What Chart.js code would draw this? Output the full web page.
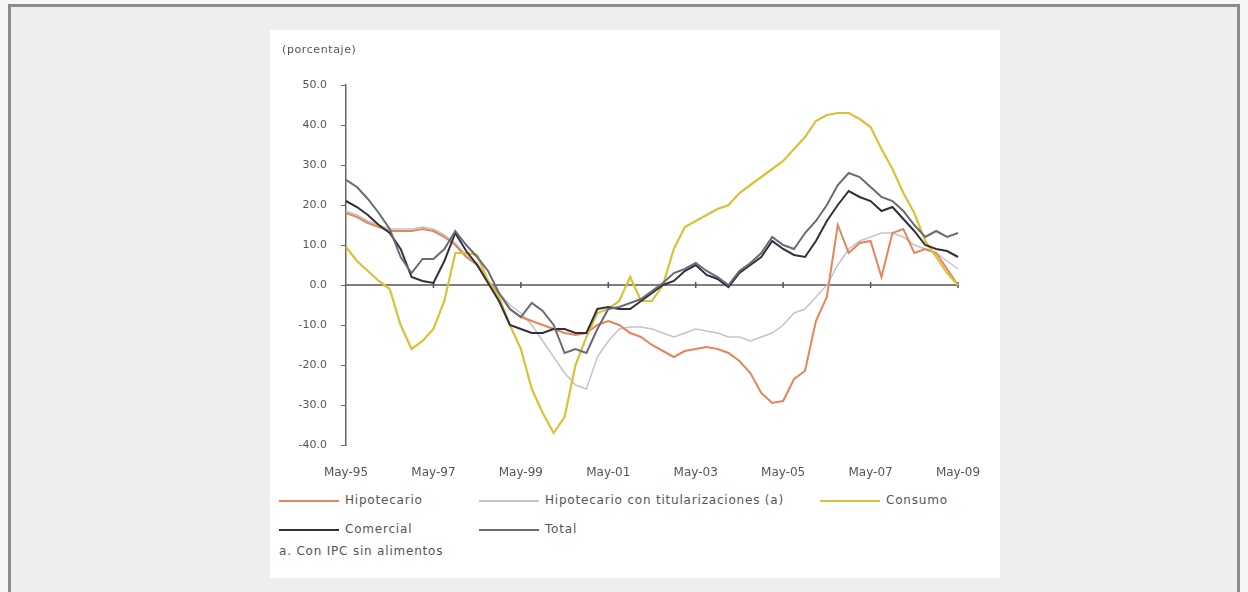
<!DOCTYPE html>
<html>
<head>
<meta charset="utf-8">
<script src="https://cdn.jsdelivr.net/npm/chart.js@4"></script>
<style>
  body { margin: 0; background: #f6f6f6; font-family: "DejaVu Sans", sans-serif; }
  #frame { position: absolute; left: 8px; top: 4px; width: 1226px; height: 620px;
           border: 3px solid #8c8c8c; background: #eeeeee; }
  #panel { position: absolute; left: 270px; top: 30px; width: 730px; height: 548px; background: #ffffff; }
  #wrap { position: absolute; left: 0; top: 0; width: 730px; height: 450px; }
  #ytitle { position: absolute; left: 12px; top: 13px; font-size: 11px; color: #555; letter-spacing: 0.6px; }
  .leg { position: absolute; font-size: 12px; color: #555; letter-spacing: 0.8px; white-space: nowrap; }
  .leg i { display: inline-block; width: 60px; height: 2px; vertical-align: middle; margin-right: 6px; }
  #nota { position: absolute; left: 9px; top: 514px; font-size: 12px; color: #555; letter-spacing: 0.8px; }
</style>
</head>
<body>
<div id="frame"></div>
<div id="panel">
  <div id="wrap"><canvas id="monGraphique"></canvas></div>
  <div id="ytitle">(porcentaje)</div>
  <div id="legende"></div>
  <div id="nota">a. Con IPC sin alimentos</div>
</div>
<script>
// Trimestres, de May-95 a May-09
let mois = ['May-95','Ago-95','Nov-95','Feb-96','May-96','Ago-96','Nov-96','Feb-97',
            'May-97','Ago-97','Nov-97','Feb-98','May-98','Ago-98','Nov-98','Feb-99',
            'May-99','Ago-99','Nov-99','Feb-00','May-00','Ago-00','Nov-00','Feb-01',
            'May-01','Ago-01','Nov-01','Feb-02','May-02','Ago-02','Nov-02','Feb-03',
            'May-03','Ago-03','Nov-03','Feb-04','May-04','Ago-04','Nov-04','Feb-05',
            'May-05','Ago-05','Nov-05','Feb-06','May-06','Ago-06','Nov-06','Feb-07',
            'May-07','Ago-07','Nov-07','Feb-08','May-08','Ago-08','Nov-08','Feb-09',
            'May-09'];

let yTicks = [-40, -30, -20, -10, 0, 10, 20, 30, 40, 50];

let dataHipotecario = [18, 17, 15.5, 14.5, 13.5, 13.5, 13.5, 14, 13.5, 12, 10, 7,
                       5, 1, -2, -6, -8, -9, -10, -11, -12, -12.5, -12, -10,
                       -9, -10, -12, -13, -15, -16.5, -18, -16.5, -16, -15.5, -16, -17,
                       -19, -22, -27, -29.5, -29, -23.5, -21.5, -9, -3, 15, 8, 10.5,
                       11, 2, 13, 14, 8, 9, 8, 4, 0];

let dataHipoTitul = [18.5, 17.5, 16, 15, 14, 14, 14, 14.5, 14, 12.5, 10.5, 7.5,
                     5.5, 1, -2, -5, -7, -10, -14, -18, -22, -25, -26, -18,
                     -14, -11, -10.5, -10.5, -11, -12, -13, -12, -11, -11.5, -12, -13,
                     -13, -14, -13, -12, -10, -7, -6, -3, 0, 5, 9, 11,
                     12, 13, 13, 12, 10, 9, 8, 6, 4];

let dataConsumo = [9.5, 6, 3.5, 1, -1, -10, -16, -14, -11, -4, 8, 8,
                   7.5, 1, -3, -10, -16, -26, -32, -37, -33, -20, -13, -7,
                   -6, -4, 2, -4, -4, 0, 9, 14.5, 16, 17.5, 19, 20,
                   23, 25, 27, 29, 31, 34, 37, 41, 42.5, 43, 43, 41.5,
                   39.5, 34, 29, 23, 18, 11, 7, 3, 0];

let dataComercial = [21, 19.5, 17.5, 15, 13, 9, 2, 1, 0.5, 6, 13, 8.5,
                     5, 0.5, -4, -10, -11, -12, -12, -11, -11, -12, -12, -6,
                     -5.5, -6, -6, -4, -2, 0, 1, 3.5, 5, 2.5, 1.5, -0.5,
                     3, 5, 7, 11, 9, 7.5, 7, 11, 16, 20, 23.5, 22,
                     21, 18.5, 19.5, 16.5, 13.5, 10, 9, 8.5, 7];

let dataTotal = [26.3, 24.5, 21.5, 18, 14, 7, 3, 6.5, 6.5, 9, 13.5, 10,
                 7, 3.5, -2, -6, -8, -4.5, -6.5, -10, -17, -16, -17, -11,
                 -6, -5.5, -4.5, -3.5, -1.5, 0.5, 3, 4, 5.5, 3.5, 2, 0,
                 3.5, 5.5, 8, 12, 10, 9, 13, 16, 20, 25, 28, 27,
                 24.5, 22, 21, 18.5, 15, 12, 13.5, 12, 13];

// Séries : nom, données, couleur, épaisseur, ordre de dessin
let arraySeries = [
    { name: 'Hipotecario', data: dataHipotecario, color: '#e4855a', width: 2, order: 4 },
    { name: 'Hipotecario con titularizaciones (a)', data: dataHipoTitul, color: '#c3c3ca', width: 1.5, order: 5 },
    { name: 'Consumo', data: dataConsumo, color: '#d8c23a', width: 2.2, order: 3 },
    { name: 'Comercial', data: dataComercial, color: '#30303c', width: 2, order: 2 },
    { name: 'Total', data: dataTotal, color: '#6a6a76', width: 2, order: 1 }
];

// Ligne du zéro + petits repères
const zeroLine = {
    id: 'zeroLine',
    beforeDatasetsDraw(chart) {
        const c = chart.ctx, a = chart.chartArea;
        const y0 = chart.scales.y.getPixelForValue(0);
        c.save();
        c.strokeStyle = '#555';
        c.lineWidth = 1.5;
        c.beginPath();
        c.moveTo(a.left, y0);
        c.lineTo(a.right, y0);
        mois.forEach((m, i) => {
            if (i % 8 == 0 && i > 0) {
                const x = chart.scales.x.getPixelForValue(i);
                c.moveTo(x, y0 - 3);
                c.lineTo(x, y0 + 3);
            }
        });
        c.stroke();
        c.restore();
    }
};

const ctx = document.getElementById('monGraphique').getContext('2d');
const myChart = new Chart(ctx, {
    type: 'line',
    data: {
        labels: mois,
        datasets: arraySeries.map(s => ({
            label: s.name,
            data: s.data,
            borderColor: s.color,
            borderWidth: s.width,
            pointRadius: 0,
            tension: 0,
            fill: false,
            order: s.order
        }))
    },
    options: {
        responsive: true,
        maintainAspectRatio: false,
        animation: false,
        layout: { padding: { top: 55, right: 42, left: 0, bottom: 0 } },
        plugins: {
            legend: { display: false },
            tooltip: { enabled: false }
        },
        scales: {
            x: {
                grid: { display: false },
                border: { display: false },
                afterFit: scale => { scale.height = 35; },
                ticks: {
                    autoSkip: false,
                    maxRotation: 0,
                    padding: 13,
                    color: '#555',
                    font: { family: 'DejaVu Sans', size: 12 },
                    callback: (v, i) => (i % 8 == 0 ? mois[i] : '')
                }
            },
            y: {
                min: -40,
                max: 50,
                afterFit: scale => { scale.width = 76; },
                afterBuildTicks: scale => { scale.ticks = yTicks.map(v => ({ value: v })); },
                border: { display: true, color: '#666', width: 1.5 },
                grid: { drawOnChartArea: false, tickLength: 5, color: '#666' },
                ticks: {
                    padding: 14,
                    color: '#555',
                    font: { family: 'DejaVu Sans', size: 11 },
                    callback: v => v.toFixed(1)
                }
            }
        }
    },
    plugins: [zeroLine]
});

// Légende HTML à partir des séries
let posLegende = [[9, 463], [209, 463], [550, 463], [9, 492], [209, 492]];
const legende = document.getElementById('legende');
arraySeries.forEach((s, i) => {
    let d = document.createElement('div');
    d.className = 'leg';
    d.style.left = posLegende[i][0] + 'px';
    d.style.top = posLegende[i][1] + 'px';
    d.innerHTML = '<i style="background:' + s.color + '"></i>' + s.name;
    legende.appendChild(d);
});
</script>
</body>
</html>
